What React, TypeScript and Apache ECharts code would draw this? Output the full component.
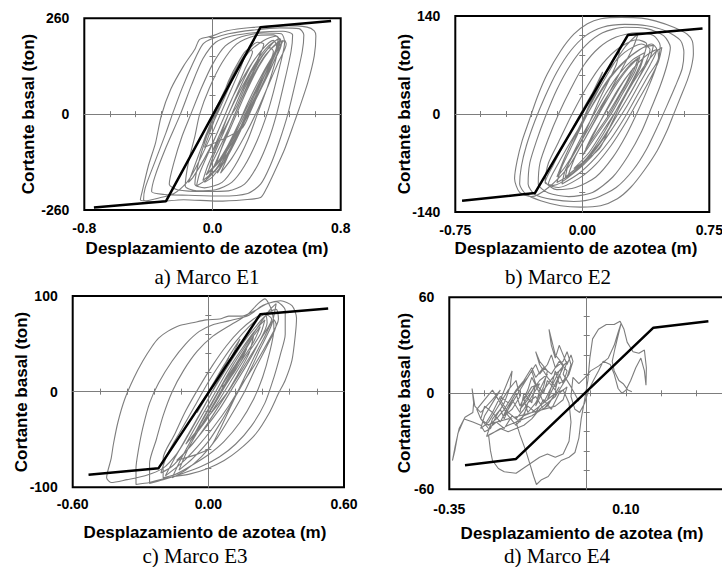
import React, { useEffect, useRef } from "react";
import * as echarts from "echarts";

// ---------- Panel a) Marco E1 ----------
const e1XLabels = [-0.8, 0, 0.8];
const e1YLabels = [-260, 0, 260];
const e1XMinor = [-0.64, -0.48, -0.32, -0.16, 0.16, 0.32, 0.48, 0.64];
const e1YMinor = [-208, -156, -104, -52, 52, 104, 156, 208];
const e1Backbone = [[-0.74, -253], [-0.29, -236], [0.3, 236], [0.74, 253]];
const e1Response = [
  [0, 0], [0.05, 40], [0.1, 85], [0.13, 105], [0.11, 80], [0.05, 20], [-0.02, -45], [-0.06, -80], [-0.04, -55], [0.03, 10], [0.1, 75], [0.17, 135], [0.2, 155], [0.17, 120], [0.1, 50], [0.01, -40], [-0.07, -115], [-0.11, -150],
  [-0.16, -185], [-0.24, -215], [-0.34, -228], [-0.42, -235], [-0.45, -232],
  [-0.44, -212], [-0.4, -140], [-0.355, -77], [-0.32, -5], [-0.26, 68], [-0.18, 131], [-0.11, 176], [-0.08, 203], [-0.01, 211], [0.09, 226], [0.24, 235], [0.45, 240], [0.59, 236], [0.635, 226], [0.645, 212], [0.635, 158], [0.595, 86], [0.54, 14], [0.51, -23], [0.45, -95], [0.385, -158], [0.335, -203], [0.3, -226], [0.2, -232], [0.03, -236], [-0.18, -232], [-0.36, -238], [-0.43, -232],
  [-0.42, -200], [-0.36, -130], [-0.29, -50], [-0.25, 0], [-0.19, 70], [-0.12, 140], [-0.06, 190], [0.0, 205], [0.1, 218], [0.25, 228], [0.42, 234], [0.54, 232], [0.57, 215], [0.56, 170], [0.52, 90], [0.47, 0], [0.42, -70], [0.36, -140], [0.3, -190], [0.22, -215], [0.05, -222], [-0.15, -220], [-0.3, -218], [-0.38, -210],
  [-0.36, -170], [-0.29, -90], [-0.2, 0], [-0.13, 80], [-0.06, 150], [0.02, 195], [0.12, 212], [0.28, 222], [0.44, 225], [0.5, 215], [0.49, 170], [0.45, 90], [0.4, 0], [0.35, -70], [0.28, -140], [0.2, -190], [0.1, -208], [-0.05, -210], [-0.22, -205], [-0.27, -190],
  [-0.24, -130], [-0.19, -60], [-0.135, 0], [-0.07, 70], [0.0, 135], [0.08, 185], [0.18, 210], [0.32, 220], [0.43, 218], [0.45, 195], [0.42, 130], [0.38, 60], [0.34, 0], [0.28, -70], [0.2, -140], [0.12, -185], [0.02, -205], [-0.1, -208], [-0.17, -195],
  [-0.15, -130], [-0.11, -60], [-0.08, 0], [-0.02, 70], [0.06, 140], [0.15, 190], [0.26, 212], [0.38, 215], [0.42, 200], [0.39, 140], [0.34, 70], [0.28, 0], [0.22, -70], [0.14, -140], [0.06, -185], [-0.05, -200], [-0.11, -190],
  [-0.08, -120], [-0.02, -40], [0.04, 30], [0.12, 100], [0.22, 165], [0.32, 200], [0.4, 212], [0.42, 200], [0.37, 140], [0.3, 70], [0.22, 0], [0.14, -70], [0.06, -130], [-0.03, -175], [-0.1, -195],
  [-0.08, -160], [-0.01, -90], [0.06, -20], [0.13, 50], [0.22, 120], [0.31, 175], [0.38, 200], [0.4, 185], [0.34, 120], [0.26, 50], [0.18, -20], [0.1, -90], [0.02, -150], [-0.06, -180],
  [-0.03, -140], [0.04, -70], [0.1, 0], [0.18, 70], [0.27, 140], [0.35, 185], [0.42, 205], [0.43, 190], [0.38, 140], [0.3, 70], [0.22, 0], [0.14, -60], [0.05, -120], [-0.03, -160],
  [0.0, -120], [0.07, -50], [0.13, 10], [0.2, 80], [0.28, 140], [0.36, 180], [0.38, 170], [0.32, 110], [0.24, 40], [0.17, -20], [0.09, -90], [0.02, -140],
  [0.05, -100], [0.11, -30], [0.18, 40], [0.26, 110], [0.33, 160], [0.4, 190], [0.44, 200], [0.41, 170], [0.35, 110], [0.27, 40], [0.2, -20], [0.12, -80], [0.04, -130], [-0.04, -165],
  [0.1, -40], [0.16, 20], [0.23, 90], [0.3, 150], [0.37, 190], [0.41, 205], [0.4, 180], [0.34, 120], [0.28, 60], [0.21, -5], [0.14, -70], [0.07, -130], [0.0, -170], [-0.05, -185], [0.0, -150], [0.07, -80], [0.14, -10], [0.21, 60], [0.29, 130], [0.36, 175], [0.42, 200], [0.39, 160], [0.32, 100], [0.25, 30], [0.18, -40], [0.1, -110], [0.03, -160], [0.08, -110], [0.15, -40], [0.22, 30], [0.3, 100], [0.38, 160], [0.45, 200], [0.46, 190], [0.41, 140], [0.35, 80], [0.28, 10], [0.2, -60], [0.12, -120], [0.05, -160], [0.12, -90], [0.19, -20], [0.26, 50], [0.33, 120], [0.39, 165], [0.36, 130], [0.3, 70], [0.24, 10], [0.18, -40],
  [-0.05, -90], [0.0, -30], [0.05, 30], [0.1, 90], [0.16, 140], [0.22, 175], [0.25, 170], [0.2, 120], [0.14, 60], [0.08, 0], [0.02, -60], [-0.05, -120], [-0.12, -170], [-0.15, -185], [-0.12, -150], [-0.06, -80], [0.0, -10], [0.06, 50], [0.13, 110], [0.2, 160], [0.28, 195], [0.32, 190], [0.26, 130], [0.18, 60], [0.12, 0], [0.05, -60], [0.0, -100], [0.06, -40], [0.12, 20], [0.18, 80], [0.25, 140], [0.3, 170], [0.27, 130], [0.2, 70], [0.15, 20], [0.12, 0],
];

// ---------- Panel b) Marco E2 ----------
const e2XLabels = [-0.75, 0, 0.75];
const e2YLabels = [-140, 0, 140];
const e2XMinor = [-0.6, -0.45, -0.3, -0.15, 0.15, 0.3, 0.45, 0.6];
const e2YMinor = [-112, -84, -56, -28, 28, 56, 84, 112];
const e2Backbone = [[-0.71, -124], [-0.28, -113], [0.27, 113], [0.71, 122]];
const e2Response = [
  [0, 0], [0.05, 25], [0.1, 50], [0.12, 60], [0.08, 35], [0.0, -10], [-0.06, -45], [-0.03, -30], [0.05, 15], [0.14, 60], [0.22, 90], [0.2, 70], [0.1, 20], [0.0, -35], [-0.1, -75], [-0.15, -90], [-0.1, -60], [0.0, -10], [0.12, 45], [0.25, 95], [0.33, 115], [0.3, 95], [0.18, 40], [0.05, -20], [-0.08, -75], [-0.2, -105],
  [-0.3, -118], [-0.37, -112], [-0.4, -92], [-0.385, -67], [-0.355, -38], [-0.315, -10], [-0.266, 24], [-0.207, 57], [-0.128, 90], [-0.05, 114], [0.03, 129], [0.11, 136], [0.23, 138], [0.35, 137], [0.43, 133], [0.54, 124], [0.62, 114], [0.65, 104], [0.656, 86], [0.644, 67], [0.62, 48], [0.58, 24], [0.54, 0], [0.5, -24], [0.443, -52], [0.364, -81], [0.285, -105], [0.207, -121], [0.108, -131], [-0.01, -133], [-0.128, -131], [-0.246, -124], [-0.335, -114], [-0.37, -100],
  [-0.36, -75], [-0.33, -45], [-0.28, -10], [-0.22, 25], [-0.15, 60], [-0.07, 90], [0.02, 112], [0.12, 124], [0.25, 128], [0.38, 126], [0.5, 118], [0.58, 105], [0.6, 88], [0.59, 65], [0.55, 40], [0.5, 12], [0.45, -15], [0.38, -50], [0.3, -80], [0.2, -105], [0.08, -120], [-0.05, -125], [-0.18, -122], [-0.28, -115], [-0.32, -100],
  [-0.31, -70], [-0.27, -38], [-0.22, -5], [-0.15, 35], [-0.07, 70], [0.02, 98], [0.12, 116], [0.25, 124], [0.38, 122], [0.48, 112], [0.52, 95], [0.5, 70], [0.46, 40], [0.41, 10], [0.35, -25], [0.27, -60], [0.18, -90], [0.06, -112], [-0.08, -118], [-0.2, -113], [-0.26, -100],
  [-0.25, -70], [-0.2, -35], [-0.14, 0], [-0.07, 35], [0.01, 70], [0.1, 95], [0.2, 110], [0.32, 116], [0.42, 112], [0.46, 98], [0.44, 70], [0.39, 38], [0.33, 5], [0.26, -30], [0.18, -62], [0.08, -90], [-0.04, -105], [-0.15, -108], [-0.22, -95],
  [-0.2, -70], [-0.14, -40], [-0.06, 0], [0.03, 40], [0.12, 72], [0.22, 95], [0.32, 106], [0.38, 100], [0.35, 75], [0.28, 40], [0.2, 5], [0.12, -30], [0.03, -62], [-0.07, -88], [-0.17, -102], [-0.22, -98],
  [-0.17, -72], [-0.1, -40], [-0.03, -8], [0.06, 30], [0.15, 62], [0.25, 88], [0.35, 100], [0.4, 92], [0.36, 65], [0.29, 32], [0.21, 0], [0.13, -33], [0.04, -62], [-0.06, -85], [-0.15, -98],
  [-0.12, -75], [-0.05, -40], [0.02, -5], [0.1, 30], [0.18, 58], [0.27, 80], [0.36, 95], [0.42, 98], [0.4, 80], [0.33, 50], [0.26, 20], [0.18, -12], [0.1, -42], [0.0, -70], [-0.1, -90],
  [-0.08, -70], [-0.01, -35], [0.07, 0], [0.14, 30], [0.22, 58], [0.3, 78], [0.37, 88], [0.34, 65], [0.27, 35], [0.2, 5], [0.12, -25], [0.04, -55], [-0.05, -78],
  [0.1, -50], [0.16, -20], [0.23, 15], [0.3, 45], [0.37, 70], [0.43, 88], [0.47, 95], [0.45, 75], [0.39, 45], [0.32, 15], [0.25, -15], [0.17, -45], [0.08, -72], [-0.02, -92], [-0.14, -105], [-0.2, -100], [-0.14, -70], [-0.07, -40], [0.0, -12], [0.08, 20], [0.16, 50], [0.25, 75], [0.34, 92], [0.41, 100], [0.44, 92], [0.4, 70], [0.33, 40], [0.26, 10], [0.18, -20], [0.1, -48], [0.01, -72], [-0.09, -92], [-0.04, -60], [0.04, -25], [0.11, 5], [0.19, 38], [0.27, 65], [0.34, 82], [0.31, 60], [0.24, 30], [0.17, 0],
  [0.0, -60], [0.07, -28], [0.14, 5], [0.21, 35], [0.29, 62], [0.37, 82], [0.44, 92], [0.45, 80], [0.39, 55], [0.32, 25], [0.25, -5], [0.17, -35], [0.08, -62], [-0.02, -85], [-0.12, -100],
  [-0.1, -80], [-0.02, -45], [0.05, -15], [0.12, 15], [0.2, 45], [0.28, 70], [0.33, 80], [0.3, 60], [0.23, 30], [0.16, 0], [0.09, -25], [0.02, -50], [0.06, -30], [0.12, -5], [0.18, 20], [0.24, 45], [0.3, 65], [0.26, 45], [0.2, 20], [0.15, 0],
];

// ---------- Panel c) Marco E3 ----------
const e3XLabels = [-0.6, 0, 0.6];
const e3YLabels = [-100, 0, 100];
const e3XMinor = [-0.48, -0.36, -0.24, -0.12, 0.12, 0.24, 0.36, 0.48];
const e3YMinor = [-80, -60, -40, -20, 20, 40, 60, 80];
const e3Backbone = [[-0.53, -87], [-0.22, -80], [0.23, 81], [0.53, 87]];
const e3Response = [
  [0, 0], [0.03, 12], [0.07, 28], [0.09, 35], [0.06, 22], [0.0, -2], [-0.05, -22], [-0.03, -12], [0.04, 15], [0.1, 40], [0.14, 55], [0.11, 40], [0.04, 10], [-0.04, -25], [-0.1, -50], [-0.14, -65],
  [-0.2, -80], [-0.28, -88], [-0.36, -92], [-0.43, -95], [-0.45, -90], [-0.43, -70], [-0.42, -55], [-0.4, -32], [-0.37, -8], [-0.33, 14], [-0.29, 32], [-0.25, 47], [-0.22, 56], [-0.18, 63], [-0.13, 69], [-0.07, 72], [-0.01, 75], [0.05, 76], [0.09, 79], [0.15, 79], [0.2, 84], [0.26, 92], [0.32, 95], [0.37, 90], [0.39, 77], [0.385, 60], [0.37, 33], [0.34, 12], [0.31, -2], [0.27, -22], [0.21, -44], [0.13, -62], [0.07, -72], [0.0, -80], [-0.08, -86], [-0.18, -90], [-0.26, -95], [-0.32, -97],
  [-0.32, -80], [-0.31, -62], [-0.29, -38], [-0.26, -12], [-0.22, 9], [-0.16, 32], [-0.1, 50], [-0.04, 63], [0.02, 70], [0.09, 74], [0.18, 80], [0.24, 90], [0.3, 94], [0.34, 85], [0.34, 60], [0.32, 40], [0.29, 15], [0.25, -12], [0.19, -36], [0.12, -55], [0.05, -68], [-0.03, -78], [-0.12, -86], [-0.2, -92], [-0.26, -96],
  [-0.26, -75], [-0.23, -50], [-0.2, -25], [-0.16, 0], [-0.11, 22], [-0.05, 42], [0.02, 58], [0.1, 70], [0.17, 80], [0.22, 92], [0.25, 97], [0.28, 85], [0.29, 65], [0.27, 40], [0.24, 15], [0.2, -8], [0.14, -32], [0.07, -52], [0.0, -66], [-0.08, -78], [-0.15, -87], [-0.2, -90],
  [-0.2, -70], [-0.15, -45], [-0.1, -20], [-0.04, 5], [0.02, 28], [0.08, 48], [0.14, 64], [0.2, 76], [0.25, 82], [0.26, 72], [0.22, 50], [0.17, 28], [0.11, 5], [0.05, -18], [-0.02, -40], [-0.09, -60], [-0.16, -78], [-0.21, -85],
  [-0.18, -65], [-0.12, -40], [-0.06, -15], [0.0, 10], [0.06, 32], [0.12, 52], [0.18, 68], [0.24, 80], [0.3, 86], [0.31, 76], [0.27, 55], [0.21, 30], [0.15, 8], [0.09, -15], [0.02, -38], [-0.05, -58], [-0.12, -75], [-0.19, -88],
  [-0.15, -70], [-0.09, -45], [-0.03, -20], [0.03, 5], [0.09, 28], [0.15, 50], [0.21, 68], [0.26, 80], [0.28, 76], [0.24, 58], [0.18, 35], [0.12, 12], [0.06, -10], [0.0, -32], [-0.07, -55], [-0.14, -72],
  [0.0, -60], [0.05, -40], [0.1, -15], [0.15, 10], [0.2, 35], [0.25, 58], [0.29, 75], [0.3, 70], [0.26, 48], [0.21, 25], [0.16, 0], [0.1, -25], [0.04, -48], [-0.03, -68], [-0.1, -82], [-0.16, -90], [-0.12, -70], [-0.07, -48], [-0.01, -22], [0.05, 3], [0.11, 28], [0.17, 50], [0.22, 68], [0.27, 85], [0.3, 92], [0.28, 70], [0.23, 45], [0.18, 20], [0.12, -5], [0.06, -30], [0.0, -52], [-0.07, -70], [-0.13, -82], [-0.09, -60], [-0.03, -35], [0.03, -10], [0.09, 15], [0.15, 38], [0.2, 58], [0.18, 40], [0.13, 18], [0.08, -2],
  [-0.1, -55], [-0.04, -30], [0.02, -5], [0.08, 20], [0.14, 42], [0.2, 62], [0.25, 75], [0.23, 60], [0.17, 38], [0.11, 15], [0.05, -8], [-0.01, -30], [-0.08, -52],
  [-0.05, -40], [0.01, -15], [0.07, 10], [0.13, 32], [0.19, 55], [0.23, 68], [0.2, 52], [0.14, 30], [0.08, 8], [0.03, -12], [-0.03, -35], [0.02, -15], [0.07, 5], [0.12, 25], [0.17, 45], [0.14, 30], [0.09, 12], [0.06, 5],
];

// ---------- Panel d) Marco E4 ----------
const e4XLabels = [-0.35, 0.1];
const e4YLabels = [-60, 0, 60];
const e4XMinor = [-0.26, -0.17, -0.08, 0.01, 0.1, 0.19, 0.28];
const e4YMinor = [-48, -36, -24, -12, 12, 24, 36, 48];
const e4Backbone = [[-0.31, -45], [-0.18, -41], [0.17, 41], [0.31, 45]];
const e4Response = [
  [-0.02, -5], [-0.04, 4], [-0.06, 12], [-0.05, 20], [-0.07, 14], [-0.09, 4], [-0.1, -4], [-0.08, 6], [-0.06, 16], [-0.08, 12], [-0.11, 2], [-0.13, -8], [-0.12, 2], [-0.1, 12], [-0.12, 8], [-0.15, -2], [-0.17, -10], [-0.15, -4], [-0.13, 6], [-0.14, 14], [-0.16, 6], [-0.19, -6], [-0.21, -14], [-0.19, -10], [-0.17, -2], [-0.18, 8], [-0.2, 2], [-0.23, -10], [-0.25, -18], [-0.27, -22], [-0.26, -14], [-0.24, -6], [-0.22, 2], [-0.24, -4], [-0.27, -12],
  [-0.285, -8], [-0.292, 3], [-0.288, -6], [-0.29, -12], [-0.31, -15], [-0.325, -22], [-0.335, -33], [-0.342, -42], [-0.336, -36], [-0.328, -25], [-0.312, -16], [-0.29, -18], [-0.27, -20], [-0.26, -24], [-0.245, -22], [-0.23, -14], [-0.21, -6], [-0.195, 4], [-0.19, 14], [-0.2, 8], [-0.22, -4], [-0.2, -12], [-0.18, -16], [-0.16, -10], [-0.14, -2], [-0.12, 6], [-0.14, 4], [-0.16, -4], [-0.15, -12], [-0.13, -6], [-0.11, 4], [-0.1, 14], [-0.12, 20], [-0.13, 26], [-0.12, 18], [-0.1, 10], [-0.08, 4], [-0.07, 10], [-0.06, 18], [-0.08, 24], [-0.096, 40], [-0.09, 30], [-0.08, 22], [-0.07, 30], [-0.06, 24], [-0.05, 18], [-0.04, 24], [-0.035, 20], [-0.045, 12], [-0.06, 6], [-0.08, -2], [-0.1, -6], [-0.12, -10], [-0.14, -16], [-0.16, -20], [-0.18, -22], [-0.2, -24], [-0.22, -22], [-0.24, -25], [-0.255, -27],
  [-0.24, -16], [-0.22, -10], [-0.21, -16], [-0.19, -4], [-0.17, -12], [-0.16, 0], [-0.14, -6], [-0.13, 6], [-0.11, 0], [-0.1, 8], [-0.08, 2], [-0.07, 12], [-0.06, 6], [-0.05, 14], [-0.07, 20], [-0.09, 12], [-0.11, 16], [-0.13, 10], [-0.14, 16], [-0.16, 8], [-0.18, 2], [-0.2, -6], [-0.22, -2], [-0.24, -12], [-0.26, -8], [-0.27, -16], [-0.25, -22], [-0.23, -18], [-0.21, -22], [-0.19, -14], [-0.17, -18], [-0.15, -8], [-0.13, -12], [-0.11, -4], [-0.09, -10], [-0.07, 0], [-0.05, 4], [-0.06, -4], [-0.08, -8],
  [-0.26, -20], [-0.24, -12], [-0.22, -18], [-0.2, -8], [-0.18, 0], [-0.17, -8], [-0.15, 2], [-0.14, 10], [-0.12, 0], [-0.11, -6], [-0.09, 4], [-0.08, 14], [-0.07, 6], [-0.05, 10], [-0.04, 18], [-0.05, 26], [-0.06, 20], [-0.08, 16], [-0.09, 24], [-0.1, 18], [-0.12, 12], [-0.13, 18], [-0.15, 10], [-0.17, 4], [-0.19, -2], [-0.21, -10], [-0.23, -16], [-0.25, -20], [-0.27, -16], [-0.28, -10], [-0.26, -4], [-0.24, 2], [-0.22, -6], [-0.2, -14], [-0.18, -20], [-0.16, -14], [-0.15, -6], [-0.13, -2], [-0.11, -10], [-0.09, -4], [-0.07, 4], [-0.1, -8], [-0.14, -14], [-0.2, -20], [-0.25, -26],
  [-0.245, -36], [-0.24, -42], [-0.225, -47], [-0.21, -49], [-0.18, -50], [-0.15, -45], [-0.12, -40], [-0.1, -38], [-0.08, -40], [-0.06, -38], [-0.045, -30], [-0.04, -18], [-0.045, -6], [-0.06, 2], [-0.08, 0], [-0.1, -4], [-0.12, -8], [-0.14, -12], [-0.16, -14], [-0.18, -18],
  [-0.17, -26], [-0.155, -36], [-0.145, -44], [-0.135, -52], [-0.128, -57], [-0.115, -54], [-0.098, -52], [-0.08, -46], [-0.065, -42], [-0.045, -40], [-0.03, -37], [-0.02, -28], [-0.014, -16], [-0.006, -5], [0.003, 8], [0.008, 22], [0.015, 34], [0.03, 40], [0.05, 43], [0.07, 43], [0.085, 45], [0.095, 40], [0.103, 32], [0.118, 26], [0.133, 25], [0.147, 27], [0.152, 16], [0.151, 5], [0.147, 14], [0.138, 22], [0.125, 16], [0.112, 8], [0.1, 2], [0.09, 0], [0.08, 3], [0.07, 12], [0.06, 18], [0.042, 20], [0.03, 14], [0.017, 8], [0.005, 2], [-0.005, -6], [-0.018, -12], [-0.03, -10], [-0.04, -2], [-0.035, 10], [-0.02, 6], [-0.004, 10], [0.01, 14], [0.03, 17], [0.055, 22], [0.07, 30], [0.08, 38], [0.088, 44], [0.08, 36], [0.072, 28], [0.065, 20], [0.07, 14], [0.082, 8], [0.093, 6], [0.105, 2], [0.115, 1],
];

const GRAY = "#7d7d7d";
const SANS = '"Liberation Sans", Arial, Helvetica, sans-serif';
const SERIF = '"Liberation Serif", "Times New Roman", serif';

type Panel = {
  grid: { left: number; top: number; width: number; height: number };
  xMin: number; xMax: number; yMin: number; yMax: number;
  xLabels: number[]; xDec: number; yLabels: number[];
  xMinor: number[]; yMinor: number[];
  response: number[][]; backbone: number[][];
  xLabelMargin: number; smooth: number | boolean;
};

const panels: Panel[] = [
  { grid: { left: 84.3, top: 18.3, width: 256.4, height: 191.7 }, xMin: -0.8, xMax: 0.8, yMin: -260, yMax: 260, xLabels: e1XLabels, xDec: 1, yLabels: e1YLabels, xMinor: e1XMinor, yMinor: e1YMinor, response: e1Response, backbone: e1Backbone, xLabelMargin: 11, smooth: 0.25 },
  { grid: { left: 455.3, top: 16, width: 254, height: 196 }, xMin: -0.75, xMax: 0.75, yMin: -140, yMax: 140, xLabels: e2XLabels, xDec: 2, yLabels: e2YLabels, xMinor: e2XMinor, yMinor: e2YMinor, response: e2Response, backbone: e2Backbone, xLabelMargin: 11, smooth: 0.25 },
  { grid: { left: 72.7, top: 296, width: 271.3, height: 191.3 }, xMin: -0.6, xMax: 0.6, yMin: -100, yMax: 100, xLabels: e3XLabels, xDec: 2, yLabels: e3YLabels, xMinor: e3XMinor, yMinor: e3YMinor, response: e3Response, backbone: e3Backbone, xLabelMargin: 10, smooth: 0.25 },
  { grid: { left: 449.3, top: 297.3, width: 274.8, height: 192 }, xMin: -0.35, xMax: 0.35, yMin: -60, yMax: 60, xLabels: e4XLabels, xDec: 2, yLabels: e4YLabels, xMinor: e4XMinor, yMinor: e4YMinor, response: e4Response, backbone: e4Backbone, xLabelMargin: 13, smooth: false },
];

const xTitles = [[207, 248], [576, 248], [205, 532], [582, 533]];
const yTitles = [[28, 114], [404, 114], [21, 392], [404, 393]];
const captions = [
  ["a) Marco E1", 207, 277], ["b) Marco E2", 558, 277], ["c) Marco E3", 195, 556], ["d) Marco E4", 557, 556],
];

function buildOption() {
  const grids: any[] = [];
  const xAxes: any[] = [];
  const yAxes: any[] = [];
  const series: any[] = [];
  const labelStyle = { color: "#000", fontFamily: SANS, fontWeight: "bold", fontSize: 14 };
  panels.forEach((p, g) => {
    grids.push({ ...p.grid, show: true, borderColor: "#000", borderWidth: 2, backgroundColor: "transparent", containLabel: false, outerBoundsMode: "none" });
    const common = { gridIndex: g, type: "value", splitLine: { show: false } };
    xAxes.push({ ...common, min: p.xMin, max: p.xMax, position: "bottom", axisLine: { show: false, onZero: false }, axisTick: { show: false },
      axisLabel: { ...labelStyle, margin: p.xLabelMargin, customValues: p.xLabels, formatter: (v: number) => v.toFixed(p.xDec) } });
    yAxes.push({ ...common, min: p.yMin, max: p.yMax, position: "left", axisLine: { show: false, onZero: false }, axisTick: { show: false },
      axisLabel: { ...labelStyle, margin: 15, customValues: p.yLabels, formatter: (v: number) => String(Math.round(v)) } });
    [false, true].forEach((inside, k) => {
      xAxes.push({ ...common, min: p.xMin, max: p.xMax, position: "bottom",
        axisLine: { show: k === 0, onZero: true, lineStyle: { color: GRAY, width: 1 } },
        axisTick: { show: true, inside, length: 3, customValues: p.xMinor, lineStyle: { color: GRAY, width: 1 } },
        axisLabel: { show: false } });
      yAxes.push({ ...common, min: p.yMin, max: p.yMax, position: "left",
        axisLine: { show: k === 0, onZero: true, lineStyle: { color: GRAY, width: 1 } },
        axisTick: { show: true, inside, length: 3, customValues: p.yMinor, lineStyle: { color: GRAY, width: 1 } },
        axisLabel: { show: false } });
    });
    series.push({ type: "line", xAxisIndex: g * 3, yAxisIndex: g * 3, data: p.response, symbol: "none", smooth: p.smooth,
      lineStyle: { color: GRAY, width: 1.1 }, z: 2, silent: true, clip: true });
    series.push({ type: "line", xAxisIndex: g * 3, yAxisIndex: g * 3, data: p.backbone, symbol: "none",
      lineStyle: { color: "#000", width: 2.5 }, z: 3, silent: true, clip: true });
  });

  const graphic: any[] = [];
  xTitles.forEach(([x, y]) => graphic.push({ type: "text", x, y, z: 10,
    style: { text: "Desplazamiento de azotea (m)", font: `bold 17px ${SANS}`, fill: "#000", align: "center", verticalAlign: "middle" } }));
  yTitles.forEach(([x, y]) => graphic.push({ type: "text", x, y, rotation: Math.PI / 2, z: 10,
    style: { text: "Cortante basal (ton)", font: `bold 17px ${SANS}`, fill: "#000", align: "center", verticalAlign: "middle" } }));
  captions.forEach(([t, x, y]) => graphic.push({ type: "text", x, y, z: 10,
    style: { text: t, font: `21px ${SERIF}`, fill: "#000", align: "center", verticalAlign: "middle" } }));

  return { animation: false, backgroundColor: "#fff", grid: grids, xAxis: xAxes, yAxis: yAxes, series, graphic };
}

export default function App() {
  const ref = useRef<HTMLDivElement>(null);
  useEffect(() => {
    if (!ref.current) return;
    const chart = echarts.init(ref.current, undefined, { renderer: "svg" });
    chart.setOption(buildOption() as any);
    return () => chart.dispose();
  }, []);
  return <div ref={ref} style={{ position: "fixed", left: 0, top: 0, width: 722, height: 567, background: "#fff" }} />;
}
